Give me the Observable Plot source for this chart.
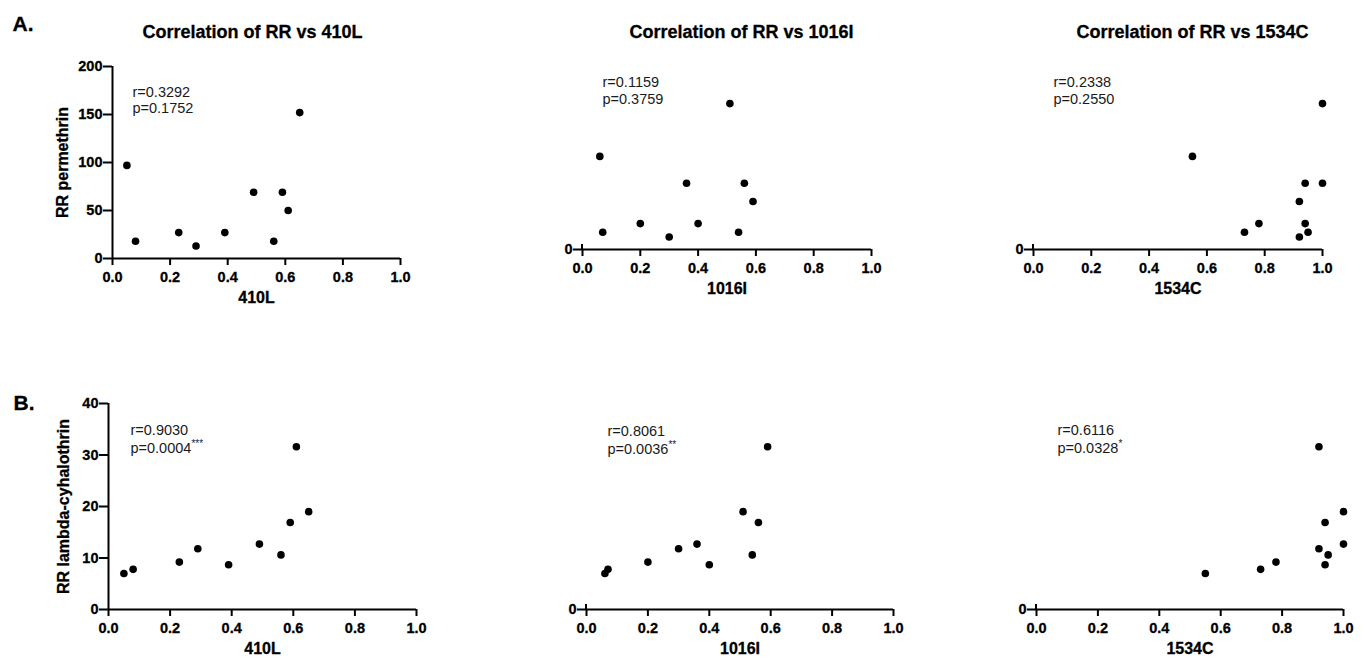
<!DOCTYPE html>
<html><head><meta charset="utf-8">
<script src="https://cdn.jsdelivr.net/npm/d3@7"></script>
<script src="https://cdn.jsdelivr.net/npm/@observablehq/plot@0.6"></script>
<style>
html,body{margin:0;padding:0;background:#fff;}
#root{position:relative;width:1369px;height:664px;overflow:hidden;background:#fff;}
#root svg{position:absolute;overflow:visible;}
#root svg g[font-weight="bold"] text{stroke:#000;stroke-width:0.3px;}
</style></head><body><div id="root"></div>
<script>
// ---- data (10 populations) ----
const populations = ["P1","P2","P3","P4","P5","P6","P7","P8","P9","P10"];
const freq410L  = [0.05, 0.08, 0.23, 0.29, 0.39, 0.49, 0.56, 0.59, 0.61, 0.65];
const freq1016I = [0.06, 0.07, 0.20, 0.30, 0.40, 0.36, 0.54, 0.56, 0.59, 0.51];
const freq1534C = [0.55, 0.73, 0.78, 0.92, 0.94, 1.00, 0.95, 0.94, 0.92, 1.00];
const rrPermethrin = [97, 18, 27, 13, 27, 69, 18, 69, 50, 152];
const rrLambda     = [7.0, 7.8, 9.2, 11.8, 8.7, 12.7, 10.6, 16.9, 31.6, 19.0];

const mutations = ["410L", "1016I", "1534C"];
const rPerm   = ["0.3292", "0.1159", "0.2338"];
const pPerm   = ["0.1752", "0.3759", "0.2550"];
const rLambda = ["0.9030", "0.8061", "0.6116"];
const pLambda = ["0.0004", "0.0036", "0.0328"];
const starsLambda = ["***", "**", "*"];

const xTicks = [0, 0.2, 0.4, 0.6, 0.8, 1.0];
const yTicksPerm = [0, 50, 100, 150, 200];
const yTicksLambda = [0, 10, 20, 30, 40];
const yDomainPerm = [0, 200];
const yDomainLambda = [0, 40];

const freqs = [freq410L, freq1016I, freq1534C];

// ---- layout (positions only) ----
const FONT = '"Liberation Sans", Arial, Helvetica, sans-serif';
const layout = [
  // row A
  {row: 0, col: 0, left: 0,   top: 0, width: 450, height: 320, mL: 112, mR: 50, mT: 66, mB: 62, tdx: -4,  tdy: -41, adx: 20, ady: [20, 36], ylx: -50},
  {row: 0, col: 1, left: 460, top: 0, width: 450, height: 320, mL: 122, mR: 39, mT: 57, mB: 71, tdx: 14.5, tdy: -32, adx: 20, ady: [19, 36]},
  {row: 0, col: 2, left: 920, top: 0, width: 449, height: 320, mL: 113, mR: 47, mT: 57, mB: 71, tdx: 14.5, tdy: -32, adx: 20, ady: [19, 36]},
  // row B
  {row: 1, col: 0, left: 0,   top: 330, width: 450, height: 334, mL: 108, mR: 34, mT: 73, mB: 55, adx: 22, ady: [21, 39], ylx: -45},
  {row: 1, col: 1, left: 460, top: 330, width: 450, height: 334, mL: 126, mR: 17, mT: 73, mB: 55, adx: 21, ady: [22, 40]},
  {row: 1, col: 2, left: 920, top: 330, width: 449, height: 334, mL: 116, mR: 26, mT: 73, mB: 55, adx: 21, ady: [21, 39]}
];

const root = document.getElementById("root");

for (const L of layout) {
  const isPerm = L.row === 0;
  const xs = freqs[L.col];
  const ys = isPerm ? rrPermethrin : rrLambda;
  const data = populations.map((p, i) => ({pop: p, x: xs[i], y: ys[i]}));
  const fullY = L.col === 0;
  const rTxt = "r=" + (isPerm ? rPerm : rLambda)[L.col];
  const pTxt = "p=" + (isPerm ? pPerm : pLambda)[L.col];
  const stars = isPerm ? "" : starsLambda[L.col];

  const marks = [
    Plot.axisX({ticks: xTicks, tickFormat: d3.format(".1f"), tickSize: 7, tickPadding: 6, strokeWidth: 2, label: null, fontSize: 14.5, fontWeight: "bold"}),
    Plot.axisY({ticks: fullY ? (isPerm ? yTicksPerm : yTicksLambda) : [0], tickFormat: d3.format("d"), tickSize: 9, tickPadding: 1, strokeWidth: 2, label: null, fontSize: 14.5, fontWeight: "bold"}),
    Plot.ruleY([0], {stroke: "black", strokeWidth: 2}),
    Plot.dot(data, {x: "x", y: "y", r: 3.8, fill: "black", stroke: null}),
    Plot.text([mutations[L.col]], {frameAnchor: "bottom", dy: 44, textAnchor: "middle", fontSize: 16, fontWeight: "bold", fill: "black"}),
    Plot.text([rTxt], {frameAnchor: "top-left", dx: L.adx, dy: L.ady[0], textAnchor: "start", fontSize: 14.5, fontWeight: "normal", fill: "#1a1a1a"}),
    Plot.text([pTxt], {frameAnchor: "top-left", dx: L.adx, dy: L.ady[1], textAnchor: "start", fontSize: 14.5, fontWeight: "normal", fill: "#1a1a1a"})
  ];
  if (fullY) {
    marks.push(Plot.ruleX([0], {stroke: "black", strokeWidth: 2}));
    marks.push(Plot.text([isPerm ? "RR permethrin" : "RR lambda-cyhalothrin"], {frameAnchor: "left", dx: L.ylx, rotate: -90, textAnchor: "middle", fontSize: 16, fontWeight: "bold", fill: "black"}));
  } else {
    // short stub of the y axis at the origin
    marks.push((index, scales) => {
      const x0 = scales.x(0), y0 = scales.y(0);
      const line = document.createElementNS("http://www.w3.org/2000/svg", "line");
      line.setAttribute("x1", x0); line.setAttribute("x2", x0);
      line.setAttribute("y1", y0); line.setAttribute("y2", y0 - 5);
      line.setAttribute("stroke", "black"); line.setAttribute("stroke-width", 2);
      return line;
    });
  }
  if (isPerm) {
    marks.push(Plot.text(["Correlation of RR vs " + mutations[L.col]], {frameAnchor: "top", dx: L.tdx, dy: L.tdy, textAnchor: "middle", fontSize: 18, fontWeight: "bold", fill: "black"}));
  }
  if (L.col === 0) {
    marks.push(Plot.text([isPerm ? "A." : "B."], {frameAnchor: "top-left", dx: isPerm ? -100 : -95, dy: isPerm ? -50 : -8, textAnchor: "start", fontSize: 21, fontWeight: "bold", fill: "black"}));
  }

  const svg = Plot.plot({
    width: L.width,
    height: L.height,
    marginLeft: L.mL, marginRight: L.mR, marginTop: L.mT, marginBottom: L.mB,
    x: {domain: [0, 1]},
    y: {domain: isPerm ? yDomainPerm : yDomainLambda},
    style: {fontFamily: FONT, fontSize: "14px", color: "black", background: "transparent", overflow: "visible"},
    marks
  });
  svg.style.left = L.left + "px";
  svg.style.top = L.top + "px";
  if (stars) {
    svg.querySelectorAll("text").forEach(t => {
      if (t.textContent === pTxt) {
        const ts = document.createElementNS("http://www.w3.org/2000/svg", "tspan");
        ts.setAttribute("dy", "-6");
        ts.setAttribute("font-size", "10");
        ts.textContent = stars;
        t.appendChild(ts);
      }
    });
  }
  root.appendChild(svg);
}
</script></body></html>
